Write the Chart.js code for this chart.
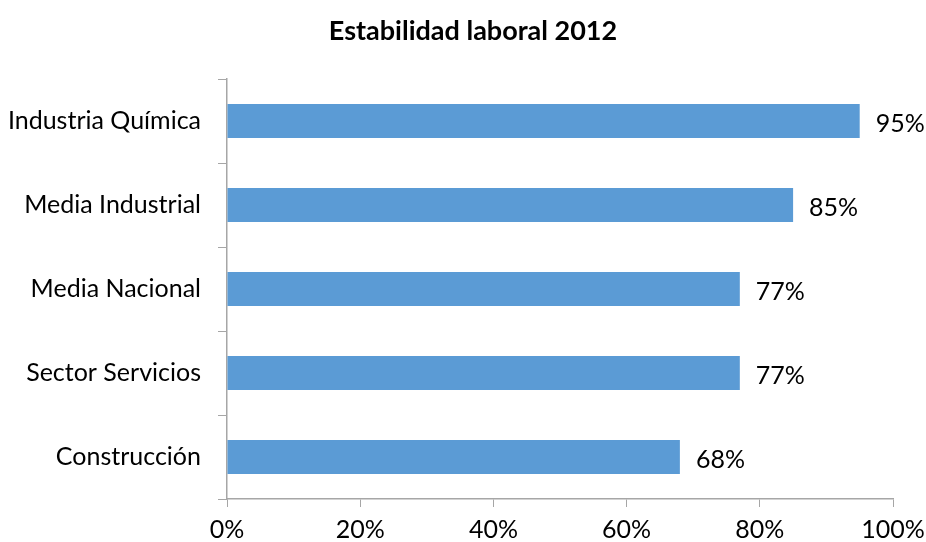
<!DOCTYPE html>
<html>
<head>
<meta charset="utf-8">
<script src="https://cdn.jsdelivr.net/npm/chart.js@4/dist/chart.umd.min.js"></script>
<style>
  html, body { margin: 0; padding: 0; background: #fff; }
  #wrap { width: 926px; height: 542px; }
</style>
</head>
<body>
<div id="wrap"><canvas id="chart" width="926" height="542"></canvas></div>
<script>
// Data
const chartTitle = 'Estabilidad laboral 2012';
const categories = ['Industria Química', 'Media Industrial', 'Media Nacional', 'Sector Servicios', 'Construcción'];
const values = [95, 85, 77, 77, 68];
const xTicks = [0, 20, 40, 60, 80, 100];

const fontFamily = 'Lato, "Open Sans", sans-serif';

// Title sits a little right of the canvas centre, like the original
const titleDraw = {
    id: 'titleDraw',
    afterDraw(chart) {
        const ctx = chart.ctx;
        ctx.save();
        ctx.font = 'bold 27px ' + fontFamily;
        ctx.fillStyle = '#000';
        ctx.textAlign = 'center';
        ctx.textBaseline = 'middle';
        ctx.fillText(chartTitle, 473, 31);
        ctx.restore();
    }
};

// Draws the value labels to the right of every bar
const valueLabels = {
    id: 'valueLabels',
    afterDatasetsDraw(chart) {
        const ctx = chart.ctx;
        const meta = chart.getDatasetMeta(0);
        ctx.save();
        ctx.font = '25px ' + fontFamily;
        ctx.fillStyle = '#000';
        ctx.textAlign = 'left';
        ctx.textBaseline = 'middle';
        meta.data.forEach((bar, i) => {
            ctx.fillText(values[i] + '%', bar.x + 16, bar.y + 3);
        });
        ctx.restore();
    }
};

const ctx = document.getElementById('chart').getContext('2d');
new Chart(ctx, {
    type: 'bar',
    data: {
        labels: categories,
        datasets: [{
            data: values,
            backgroundColor: '#5B9BD5',
            barPercentage: 0.405,
            categoryPercentage: 1
        }]
    },
    options: {
        indexAxis: 'y',
        responsive: false,
        animation: false,
        layout: { padding: { left: 0, right: 0, top: 79, bottom: 0 } },
        plugins: {
            legend: { display: false },
            tooltip: { enabled: false },
            title: { display: false }
        },
        scales: {
            x: {
                min: 0,
                max: 100,
                afterBuildTicks(axis) {
                    axis.ticks = xTicks.map(v => ({ value: v }));
                },
                afterFit(axis) {
                    axis.height = 43;
                    axis.paddingLeft = 0;
                    axis.paddingRight = 33;
                },
                grid: { drawOnChartArea: false, drawTicks: true, tickLength: 8, color: '#A6A6A6' },
                border: { color: '#A6A6A6', width: 1.5 },
                ticks: {
                    color: '#000',
                    padding: 8,
                    maxRotation: 0,
                    font: { family: fontFamily, size: 25 },
                    callback: v => v + '%'
                }
            },
            y: {
                afterFit(axis) {
                    axis.width = 227;
                    axis.paddingTop = 0;
                    axis.paddingBottom = 0;
                },
                grid: { drawOnChartArea: false, drawTicks: true, tickLength: 9, color: '#A6A6A6', offset: true },
                border: { color: '#A6A6A6', width: 1.5 },
                ticks: {
                    color: '#000',
                    padding: 17,
                    font: { family: fontFamily, size: 25 }
                }
            }
        }
    },
    plugins: [valueLabels, titleDraw]
});
</script>
</body>
</html>
